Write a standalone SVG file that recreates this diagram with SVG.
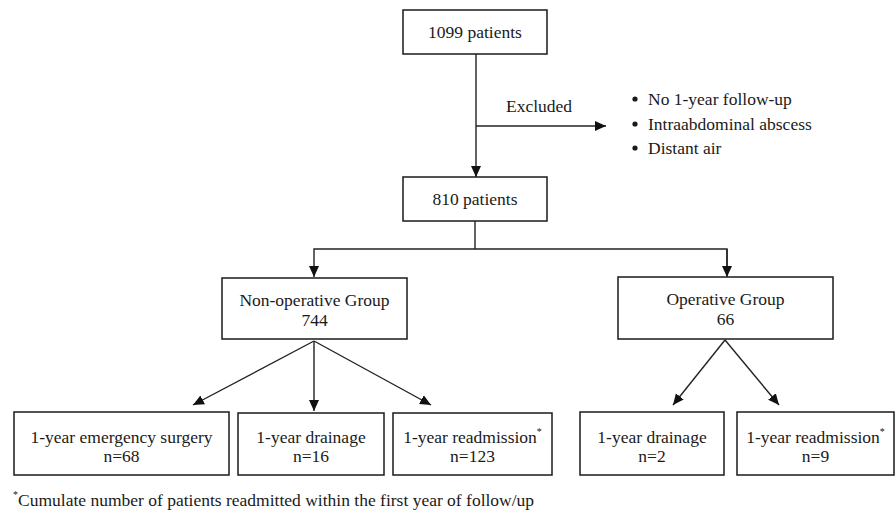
<svg xmlns="http://www.w3.org/2000/svg" width="896" height="515" viewBox="0 0 896 515">
<style>
.box{fill:#fff;stroke:#1a1a1a;stroke-width:1.5}
.t{font-family:"Liberation Serif","Times New Roman",serif;font-size:17.5px;fill:#1a1a1a}
.c{text-anchor:middle}
.ln{fill:none;stroke:#222;stroke-width:1.4}
.sup{font-size:10px}
</style>
<defs>
<marker id="ah" markerUnits="userSpaceOnUse" markerWidth="12" markerHeight="12" viewBox="0 0 12 12" refX="11" refY="6" orient="auto">
<path d="M0,1 L11,6 L0,11 Z" fill="#111"/>
</marker>
</defs>
<rect width="896" height="515" fill="#fff"/>
<g id="connectors">
<line class="ln" x1="476" y1="54" x2="476" y2="177" marker-end="url(#ah)"/>
<line class="ln" x1="476" y1="126" x2="606" y2="126" marker-end="url(#ah)"/>
<polyline class="ln" points="475,221 475,249"/>
<polyline class="ln" points="727,275 727,249 314,249 314,277" marker-end="url(#ah)"/>
<line class="ln" x1="727" y1="249" x2="727" y2="277" marker-end="url(#ah)"/>
<line class="ln" x1="314" y1="341" x2="193" y2="405" marker-end="url(#ah)"/>
<line class="ln" x1="314" y1="341" x2="314" y2="411" marker-end="url(#ah)"/>
<line class="ln" x1="314" y1="341" x2="431" y2="405" marker-end="url(#ah)"/>
<line class="ln" x1="725" y1="340" x2="673" y2="405" marker-end="url(#ah)"/>
<line class="ln" x1="725" y1="340" x2="779" y2="405" marker-end="url(#ah)"/>
<text class="t c" x="539" y="112">Excluded</text>
</g>
<g id="n1099">
<rect class="box" x="403" y="10" width="144" height="44"/>
<text class="t c" x="475" y="38">1099 patients</text>
</g>
<g id="excluded">
<circle cx="635" cy="99" r="2.6" fill="#1a1a1a"/>
<text class="t" x="648" y="105">No 1-year follow-up</text>
<circle cx="635" cy="124" r="2.6" fill="#1a1a1a"/>
<text class="t" x="648" y="130">Intraabdominal abscess</text>
<circle cx="635" cy="148" r="2.6" fill="#1a1a1a"/>
<text class="t" x="648" y="154">Distant air</text>
</g>
<g id="n810">
<rect class="box" x="403" y="177" width="144" height="44"/>
<text class="t c" x="475" y="205">810 patients</text>
</g>
<g id="nonop">
<rect class="box" x="222" y="278" width="185" height="61"/>
<text class="t c" x="314.5" y="306">Non-operative Group</text>
<text class="t c" x="314.5" y="326">744</text>
</g>
<g id="op">
<rect class="box" x="618" y="277" width="215" height="62"/>
<text class="t c" x="725.5" y="305">Operative Group</text>
<text class="t c" x="725.5" y="325">66</text>
</g>
<g id="emerg">
<rect class="box" x="14" y="412" width="215" height="63"/>
<text class="t c" x="121.5" y="443">1-year emergency surgery</text>
<text class="t c" x="121.5" y="462">n=68</text>
</g>
<g id="drain1">
<rect class="box" x="238" y="413" width="146" height="62"/>
<text class="t c" x="311" y="443">1-year drainage</text>
<text class="t c" x="311" y="462">n=16</text>
</g>
<g id="readm1">
<rect class="box" x="393" y="413" width="159" height="62"/>
<text class="t c" x="472.5" y="443">1-year readmission<tspan class="sup" dy="-8">*</tspan></text>
<text class="t c" x="472.5" y="462">n=123</text>
</g>
<g id="drain2">
<rect class="box" x="580" y="412" width="144" height="63"/>
<text class="t c" x="652" y="443">1-year drainage</text>
<text class="t c" x="652" y="462">n=2</text>
</g>
<g id="readm2">
<rect class="box" x="737" y="412" width="157" height="63"/>
<text class="t c" x="815.5" y="443">1-year readmission<tspan class="sup" dy="-8">*</tspan></text>
<text class="t c" x="815.5" y="462">n=9</text>
</g>
<g id="footnote">
<text class="t" x="13" y="506"><tspan class="sup" dy="-8">*</tspan><tspan dy="8">Cumulate number of patients readmitted within the first year of follow/up</tspan></text>
</g>
</svg>
